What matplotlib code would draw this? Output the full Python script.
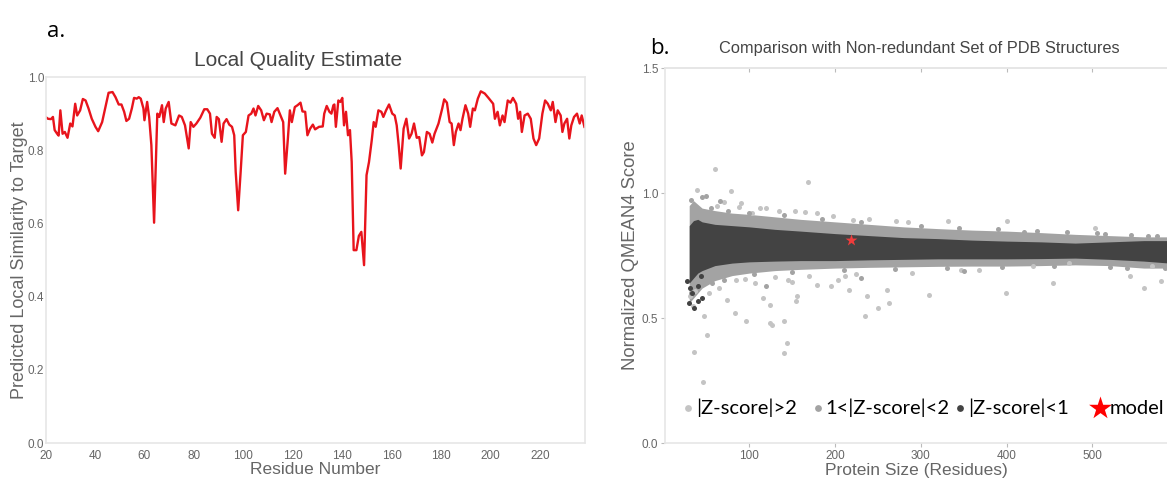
import matplotlib
matplotlib.use("Agg")
import matplotlib.pyplot as plt

# -------------------------
# data: panel a (local quality per residue)
# -------------------------
residue = [20, 21, 22.2, 23, 23.7, 24.7, 25.3, 26, 26.9, 27.8, 28.9, 30, 30.9, 32, 32.8, 34, 35.1, 36.2,
           37.4, 38.7, 40.2, 41.3, 42.9, 44.5, 45.5, 47.1, 48.3, 49.6, 50.7, 51.8, 52.7, 53.8, 54.9,
           55.8, 56.9, 57.7, 58.5, 59.6, 60, 61.1, 61.9, 62.8, 63.9, 65.2, 66, 67.1, 67.8, 68.6, 69.8,
           70.9, 72.5, 74, 75.1, 76.4, 77.9, 78.7, 79.8, 81, 82.6, 84.2, 85.4, 86.5, 87.3, 88.4, 89.2,
           90.1, 91.2, 92, 93.2, 94.3, 95.4, 96.3, 96.9, 97.9, 98.9, 99.8, 101, 102.1, 103.2, 104.1,
           104.9, 106, 107.2, 108.3, 109.4, 110.7, 111.4, 112.5, 113.8, 115, 116.1, 116.9, 118, 118.8,
           119.6, 120.8, 121.9, 123.1, 123.9, 125, 125.9, 127, 128.1, 129, 130.6, 132.1, 132.7, 133.7,
           134.8, 135.6, 136.4, 136.8, 137.4, 138.4, 139.2, 140, 140.7, 141.5, 142.3, 143.1, 143.8,
           144.6, 145.7, 146.7, 147.7, 148.8, 149.8, 150.8, 151.9, 152.7, 153.5, 154.6, 155.8, 156.6,
           157.7, 158.9, 160.2, 161.2, 162, 162.8, 163.6, 164.8, 165.9, 167, 168, 169, 170.1, 171.1,
           172.2, 173, 174.2, 175.3, 176.4, 177.3, 178.9, 180.4, 181.2, 182.3, 183.4, 184.2, 185.1,
           185.9, 187, 187.8, 188.6, 189.8, 190.9, 191.7, 192.8, 193.6, 194.8, 196, 197.6, 199.1, 201,
           201.7, 202.8, 203.7, 204.8, 205.6, 206.9, 208, 209, 210.3, 211.1, 211.9, 212.6, 213.7, 215,
           216.2, 217.3, 218.4, 219.6, 220.9, 222, 223.1, 224.3, 225.1, 226.2, 227.1, 228.3, 229,
           229.8, 230.9, 231.8, 232.6, 233.7, 234.9, 236, 236.8, 237.9]
local_score = [0.891, 0.886, 0.885, 0.891, 0.855, 0.845, 0.84, 0.909, 0.845, 0.85, 0.834, 0.873, 0.865,
               0.927, 0.895, 0.909, 0.94, 0.936, 0.914, 0.886, 0.864, 0.852, 0.877, 0.927, 0.957, 0.959,
               0.945, 0.925, 0.925, 0.905, 0.88, 0.886, 0.914, 0.943, 0.941, 0.945, 0.941, 0.914, 0.882,
               0.932, 0.891, 0.814, 0.602, 0.9, 0.891, 0.923, 0.877, 0.914, 0.932, 0.873, 0.868, 0.895,
               0.891, 0.868, 0.805, 0.877, 0.864, 0.873, 0.889, 0.912, 0.912, 0.9, 0.845, 0.834, 0.891,
               0.885, 0.823, 0.873, 0.885, 0.87, 0.864, 0.841, 0.741, 0.636, 0.741, 0.841, 0.85, 0.895,
               0.9, 0.914, 0.895, 0.921, 0.909, 0.882, 0.9, 0.898, 0.877, 0.905, 0.915, 0.895, 0.877,
               0.736, 0.832, 0.909, 0.877, 0.918, 0.923, 0.93, 0.906, 0.905, 0.841, 0.859, 0.87, 0.857,
               0.864, 0.865, 0.9, 0.921, 0.905, 0.9, 0.923, 0.925, 0.864, 0.936, 0.932, 0.943, 0.868,
               0.905, 0.841, 0.855, 0.768, 0.527, 0.527, 0.566, 0.577, 0.486, 0.732, 0.768, 0.827, 0.877,
               0.864, 0.909, 0.905, 0.891, 0.909, 0.925, 0.9, 0.895, 0.868, 0.814, 0.75, 0.859, 0.886,
               0.832, 0.845, 0.873, 0.834, 0.836, 0.786, 0.795, 0.85, 0.845, 0.821, 0.845, 0.873, 0.914,
               0.939, 0.93, 0.877, 0.873, 0.814, 0.85, 0.873, 0.855, 0.886, 0.923, 0.9, 0.864, 0.914,
               0.909, 0.941, 0.961, 0.955, 0.943, 0.927, 0.886, 0.905, 0.868, 0.895, 0.877, 0.936, 0.93,
               0.943, 0.927, 0.886, 0.905, 0.85, 0.895, 0.9, 0.886, 0.832, 0.814, 0.832, 0.9, 0.936,
               0.927, 0.909, 0.932, 0.877, 0.909, 0.895, 0.85, 0.873, 0.886, 0.832, 0.868, 0.891, 0.9,
               0.873, 0.895, 0.864]

# -------------------------
# data: panel b (reference set, read as band edges + outliers)
# -------------------------
size_grid = [30, 35, 40, 45, 60, 80, 100, 130, 160, 200, 240, 280, 320, 360, 400, 440, 480, 520, 560, 590]
dark_top = [0.87, 0.89, 0.895, 0.885, 0.875, 0.87, 0.865, 0.855, 0.848, 0.838, 0.83, 0.822, 0.818,
            0.812, 0.808, 0.805, 0.80, 0.805, 0.81, 0.81]
dark_bot = [0.64, 0.66, 0.68, 0.69, 0.71, 0.72, 0.725, 0.728, 0.73, 0.73, 0.733, 0.735, 0.737, 0.737,
            0.737, 0.738, 0.74, 0.735, 0.728, 0.72]
mid_top = [0.95, 0.97, 0.955, 0.94, 0.93, 0.92, 0.915, 0.905, 0.895, 0.885, 0.875, 0.865, 0.858,
           0.852, 0.848, 0.842, 0.835, 0.83, 0.825, 0.825]
mid_bot = [0.56, 0.58, 0.60, 0.62, 0.65, 0.67, 0.68, 0.69, 0.695, 0.70, 0.703, 0.705, 0.707, 0.708,
           0.708, 0.71, 0.713, 0.71, 0.70, 0.70]

light_x = [60, 169, 39, 79, 36, 46, 51, 144, 141, 47, 96, 124, 127, 140, 83, 116, 124, 155, 156, 235,
           250, 263, 237, 260, 309, 399, 454, 560, 580, 503, 400, 332, 271, 221, 179, 153, 120, 90, 71,
           103, 84, 65, 53, 74, 107, 145, 179, 204, 212, 216, 195, 347, 368, 431, 473, 544, 569, 34, 31,
           37, 62, 88, 112, 135, 165, 198, 240, 285, 95, 130, 170, 225, 290, 150]
light_y = [1.096, 1.045, 1.013, 1.01, 0.363, 0.243, 0.433, 0.40, 0.36, 0.507, 0.487, 0.48, 0.473, 0.49,
           0.52, 0.58, 0.553, 0.567, 0.587, 0.507, 0.54, 0.56, 0.587, 0.613, 0.593, 0.60, 0.64, 0.62,
           0.647, 0.86, 0.887, 0.887, 0.887, 0.893, 0.92, 0.927, 0.94, 0.96, 0.963, 0.92, 0.653, 0.62,
           0.60, 0.573, 0.64, 0.653, 0.633, 0.653, 0.667, 0.613, 0.627, 0.693, 0.693, 0.707, 0.72,
           0.667, 0.707, 0.547, 0.587, 0.607, 0.95, 0.945, 0.94, 0.93, 0.925, 0.91, 0.895, 0.885,
           0.655, 0.665, 0.67, 0.675, 0.68, 0.645]
mid_x = [49, 32, 34, 32, 57, 45, 66, 120, 230, 350, 420, 505, 540, 575, 55, 75, 100, 140, 185, 230,
         300, 345, 390, 435, 470, 515, 545, 565, 70, 105, 150, 210, 270, 330, 395, 455, 520, 585]
mid_y = [0.99, 0.973, 0.92, 0.60, 0.64, 0.985, 0.97, 0.63, 0.66, 0.69, 0.845, 0.84, 0.70, 0.83, 0.94,
         0.93, 0.922, 0.912, 0.895, 0.884, 0.868, 0.862, 0.855, 0.85, 0.843, 0.838, 0.833, 0.83,
         0.652, 0.675, 0.685, 0.693, 0.698, 0.702, 0.704, 0.708, 0.705, 0.70]
dark_x = [30, 36, 40, 33, 45, 28, 40, 44, 31]
dark_y = [0.56, 0.54, 0.57, 0.60, 0.58, 0.65, 0.627, 0.667, 0.62]

model_size = [219]
model_score = [0.813]

leg_labels = ["|Z-score|>2", "1<|Z-score|<2", "|Z-score|<1", "model"]
leg_colors = ["#c4c4c4", "#a3a3a3", "#434343", "#ff0000"]

# -------------------------
# figure
# -------------------------
plt.rc("font", family=["Liberation Sans", "DejaVu Sans"])
fig = plt.figure(figsize=(11.67, 4.8), dpi=100)
txt = "#666666"
frame = "#e6e6e6"

# panel a
ax1 = fig.add_axes([0.039, 0.077, 0.462, 0.7625])
ax1.plot(residue, local_score, color="#e8141c", lw=1.7)
ax1.set_xlim(20, 238)
ax1.set_ylim(0, 1.0)
ax1.set_xticks(range(20, 221, 20))
ax1.set_yticks([0.0, 0.2, 0.4, 0.6, 0.8, 1.0])
ax1.set_yticklabels(["0.0", "0.2", "0.4", "0.6", "0.8", "1.0"])
ax1.tick_params(length=0, labelsize=8.5, colors=txt)
ax1.tick_params(axis="x", pad=5)
ax1.tick_params(axis="y", pad=1)
for s in ax1.spines.values():
    s.set_color(frame)
    s.set_linewidth(1.2)
ax1.set_xlabel("Residue Number", fontsize=12.5, color=txt, labelpad=0)
ax1.set_ylabel("Predicted Local Similarity to Target", fontsize=13, color=txt, labelpad=0)
fig.text(0.255, 0.873, "Local Quality Estimate", fontsize=15, color="#444444", ha="center", va="center")
fig.text(0.040, 0.935, "a.", fontsize=16, family="Open Sans", ha="left", va="center")

# panel b
ax2 = fig.add_axes([0.570, 0.077, 0.430, 0.781])
ax2.fill_between(size_grid, mid_bot, mid_top, color="#a3a3a3", lw=0)
ax2.fill_between(size_grid, dark_bot, dark_top, color="#434343", lw=0)
ax2.scatter(light_x, light_y, s=13, color="#c4c4c4", lw=0)
ax2.scatter(mid_x, mid_y, s=13, color="#a3a3a3", lw=0)
ax2.scatter(dark_x, dark_y, s=13, color="#434343", lw=0)
ax2.scatter(model_size, model_score, marker="*", s=80, color="#f03c3c", lw=0, zorder=5)
ax2.set_xlim(2, 587)
ax2.set_ylim(0, 1.5)
ax2.set_xticks([100, 200, 300, 400, 500])
ax2.set_yticks([0.0, 0.5, 1.0, 1.5])
ax2.set_yticklabels(["0.0", "0.5", "1.0", "1.5"])
ax2.tick_params(length=3, width=0.8, color="#bbbbbb", labelsize=8.5, labelcolor=txt, pad=2)
top = ax2.secondary_xaxis("top")
top.set_xticks([100, 200, 300, 400, 500])
top.tick_params(direction="in", length=3, width=0.8, color="#bbbbbb", labeltop=False)
top.spines["top"].set_color(frame)
top.spines["top"].set_linewidth(1.2)
for k in ["left", "bottom", "top"]:
    ax2.spines[k].set_color(frame)
    ax2.spines[k].set_linewidth(1.2)
ax2.spines["right"].set_visible(False)
ax2.set_xlabel("Protein Size (Residues)", fontsize=12.5, color=txt, labelpad=1)
ax2.set_ylabel("Normalized QMEAN4 Score", fontsize=13.3, color=txt, labelpad=2)
fig.text(0.788, 0.898, "Comparison with Non-redundant Set of PDB Structures", fontsize=11.8,
         color="#444444", ha="center", va="center")
fig.text(0.557, 0.9, "b.", fontsize=16, family="Open Sans", ha="left", va="center")

# legend drawn in data space of panel b
leg_x = [29, 180, 346, 509]
for lx, lab, col in zip(leg_x, leg_labels, leg_colors):
    if lab == "model":
        ax2.scatter([lx], [0.14], marker="*", s=300, color=col, lw=0, clip_on=False)
        ax2.text(lx + 11, 0.14, lab, fontsize=14.5, family="Lato", va="center", ha="left")
    else:
        ax2.scatter([lx], [0.14], s=24, color=col, lw=0)
        ax2.text(lx + 9, 0.14, lab, fontsize=14.5, family="Lato", va="center", ha="left")

fig.savefig("out.png", dpi=100)
